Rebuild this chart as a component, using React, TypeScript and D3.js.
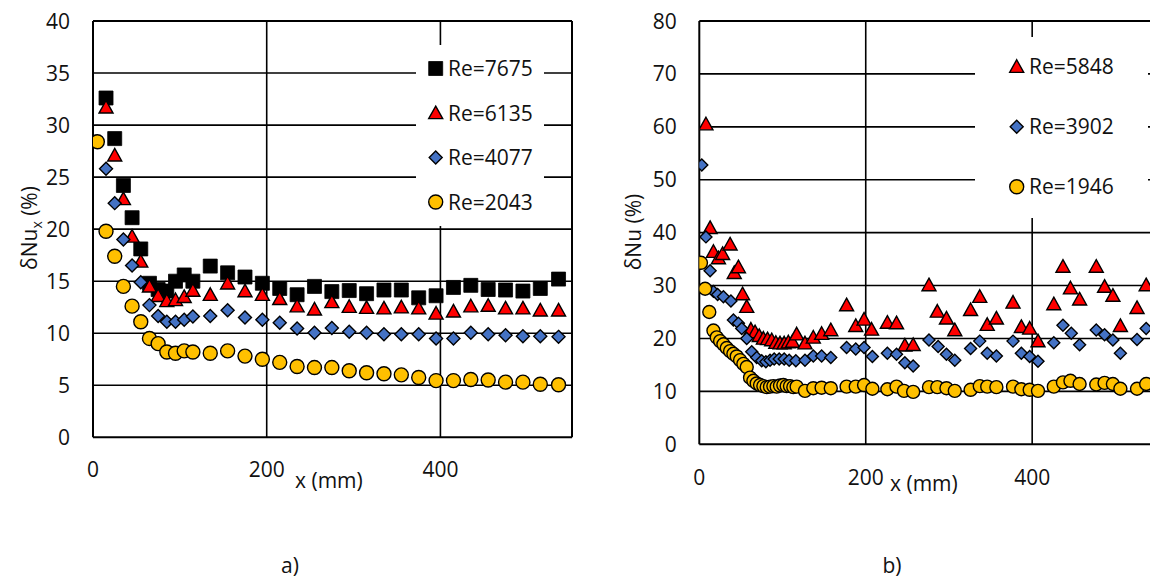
import React from 'react';
import * as d3 from 'd3';

// ---------- Chart a) ----------
const xA = [15, 25, 35, 45, 55, 65, 75, 85, 95, 105, 115, 135, 155, 175, 195, 215, 235, 255, 275, 295, 315, 335, 355, 375, 395, 415, 435, 455, 475, 495, 515, 536];
const re7675 = [32.6, 28.7, 24.2, 21.1, 18.1, 14.8, 14.2, 14.05, 15.0, 15.6, 15.0, 16.45, 15.8, 15.4, 14.8, 14.3, 13.7, 14.5, 14.0, 14.1, 13.8, 14.15, 14.15, 13.4, 13.6, 14.4, 14.6, 14.2, 14.15, 14.05, 14.3, 15.2];
const re6135 = [31.7, 27.1, 22.9, 19.3, 16.9, 14.5, 13.6, 13.1, 13.2, 13.5, 14.1, 13.7, 14.8, 14.05, 13.7, 13.3, 12.6, 12.3, 13.0, 12.55, 12.45, 12.4, 12.5, 12.4, 11.9, 12.1, 12.6, 12.65, 12.4, 12.4, 12.2, 12.2];
const re4077 = [25.8, 22.5, 19.0, 16.5, 14.9, 12.7, 11.65, 11.1, 11.1, 11.3, 11.6, 11.65, 12.2, 11.5, 11.3, 11.0, 10.45, 10.05, 10.5, 10.15, 10.05, 9.9, 9.9, 9.9, 9.5, 9.5, 10.05, 9.9, 9.8, 9.7, 9.7, 9.65];
const xA2043 = [5, 15, 25, 35, 45, 55, 65, 75, 85, 95, 105, 115, 135, 155, 175, 195, 215, 235, 255, 275, 295, 315, 335, 355, 375, 395, 415, 435, 455, 475, 495, 515, 536];
const re2043 = [28.4, 19.8, 17.4, 14.5, 12.6, 11.1, 9.5, 9.0, 8.2, 8.07, 8.3, 8.2, 8.07, 8.3, 7.8, 7.5, 7.2, 6.8, 6.7, 6.7, 6.4, 6.2, 6.1, 6.0, 5.75, 5.45, 5.45, 5.55, 5.5, 5.3, 5.3, 5.1, 5.05];

// ---------- Chart b) ----------
const xB5848 = [8, 13, 17, 23, 28, 37, 42, 47, 52, 57, 62, 67, 72, 77, 82, 87, 92, 97, 102, 107, 112, 117, 127, 137, 147, 158, 177, 188, 198, 207, 226, 237, 247, 257, 276, 286, 297, 307, 326, 337, 346, 357, 377, 387, 397, 407, 426, 437, 446, 457, 477, 487, 497, 506, 526, 537];
const re5848 = [60.5, 40.9, 36.4, 35.2, 36.0, 37.8, 32.4, 33.5, 28.4, 26.0, 21.7, 21.2, 20.5, 20.0, 19.9, 19.7, 19.2, 19.1, 19.1, 19.3, 19.4, 20.8, 19.1, 20.2, 20.9, 21.6, 26.3, 22.4, 23.6, 21.7, 23.0, 22.9, 18.7, 18.8, 30.1, 25.1, 23.8, 21.6, 25.4, 27.9, 22.6, 23.8, 26.8, 22.2, 21.9, 19.5, 26.5, 33.6, 29.5, 27.4, 33.6, 29.8, 28.1, 22.4, 25.8, 30.1];
const xB3902 = [3, 8, 13, 17, 22, 29, 38, 41, 47, 51, 57, 63, 69, 75, 80, 85, 90, 96, 102, 108, 116, 127, 137, 147, 158, 177, 188, 198, 208, 226, 237, 247, 257, 276, 287, 297, 307, 326, 337, 346, 357, 377, 387, 397, 407, 426, 437, 447, 457, 477, 487, 497, 506, 526, 537];
const re3902 = [52.8, 39.2, 32.8, 28.9, 28.3, 27.9, 27.1, 23.5, 22.9, 21.9, 20.0, 17.5, 16.4, 15.8, 15.6, 15.9, 16.1, 16.1, 16.1, 15.9, 15.8, 15.9, 16.7, 16.7, 16.4, 18.3, 18.0, 18.3, 16.6, 17.2, 17.0, 15.4, 14.8, 19.7, 18.5, 17.0, 15.9, 18.1, 19.5, 17.2, 16.7, 19.5, 17.2, 16.6, 15.7, 19.2, 22.5, 21.0, 18.8, 21.6, 20.7, 19.7, 17.2, 19.8, 21.9];
const xB1946 = [2, 7, 12, 17, 21, 25, 29, 33, 37, 41, 45, 49, 53, 57, 61, 65, 69, 73, 77, 81, 85, 89, 93, 97, 101, 105, 109, 113, 117, 127, 137, 147, 158, 177, 188, 198, 208, 226, 237, 246, 257, 276, 286, 297, 307, 326, 337, 346, 357, 377, 387, 397, 407, 426, 437, 446, 457, 477, 487, 497, 506, 526, 537];
const re1946 = [34.3, 29.4, 25.0, 21.5, 20.2, 19.5, 18.9, 18.2, 17.6, 17.1, 16.6, 15.9, 15.2, 14.6, 12.6, 12.0, 11.5, 11.2, 11.0, 10.8, 10.9, 11.0, 10.9, 11.1, 11.2, 11.0, 11.0, 10.8, 10.9, 10.1, 10.6, 10.7, 10.6, 10.9, 10.9, 11.2, 10.5, 10.4, 10.9, 10.1, 9.9, 10.8, 10.8, 10.6, 10.1, 10.3, 11.0, 10.9, 10.8, 10.9, 10.4, 10.3, 10.1, 10.9, 11.7, 12.0, 11.4, 11.3, 11.6, 11.4, 10.5, 10.5, 11.4];

const yTicksA = [0, 5, 10, 15, 20, 25, 30, 35, 40];
const yTicksB = [0, 10, 20, 30, 40, 50, 60, 70, 80];
const xTicks = [0, 200, 400];

const FONT = "'Open Sans', 'Liberation Sans', sans-serif";
const TXT = '#111';
const FS = 21;

type Shape = 'square' | 'triangle' | 'diamond' | 'circle';
const STYLE: Record<Shape, { fill: string; stroke: string }> = {
  square: { fill: '#000000', stroke: '#000000' },
  triangle: { fill: '#FF0000', stroke: '#000000' },
  diamond: { fill: '#4472C4', stroke: '#000000' },
  circle: { fill: '#FFC000', stroke: '#000000' },
};

function markerPath(shape: Shape, s: number): string {
  const h = s / 2;
  if (shape === 'square') return `M${-h},${-h}H${h}V${h}H${-h}Z`;
  if (shape === 'diamond') return `M0,${-h}L${h},0L0,${h}L${-h},0Z`;
  const th = s * 0.9;
  return `M0,${-th * 0.55}L${h},${th * 0.45}L${-h},${th * 0.45}Z`;
}

function Marker({ shape, x, y, s }: { shape: Shape; x: number; y: number; s: number }) {
  const st = STYLE[shape];
  if (shape === 'circle') {
    return <circle cx={x} cy={y} r={s / 2} fill={st.fill} stroke={st.stroke} strokeWidth={1.4} />;
  }
  return (
    <path
      d={markerPath(shape, s)}
      transform={`translate(${x},${y})`}
      fill={st.fill}
      stroke={st.stroke}
      strokeWidth={shape === 'square' ? 0.8 : 1.4}
      strokeLinejoin="miter"
    />
  );
}

interface Series {
  xs: number[];
  ys: number[];
  shape: Shape;
  size: number;
}

function Panel(props: {
  left: number;
  top: number;
  right: number;
  bottom: number;
  xMax: number;
  yMax: number;
  yTicks: number[];
  series: Series[];
  clipId: string;
  legendBox: { x0: number; x1: number; y0: number; y1: number };
  legend: { label: string; shape: Shape; size: number; y: number }[];
  legendMarkerX: number;
  legendTextX: number;
  yLabelRight: number;
  xTickBaseline: number;
  xTitleX: number;
  xTitleBaseline: number;
  yTitle: React.ReactNode;
  yTitleX: number;
  yTitleY: number;
  drawRight: boolean;
}) {
  const p = props;
  const x = d3.scaleLinear().domain([0, p.xMax]).range([p.left, p.right]);
  const y = d3.scaleLinear().domain([0, p.yMax]).range([p.bottom, p.top]);
  const lb = p.legendBox;
  return (
    <g fontFamily={FONT} fill={TXT}>
      <defs>
        <clipPath id={p.clipId}>
          <rect x={p.left} y={p.top - 10} width={p.right - p.left + 10} height={p.bottom - p.top + 20} />
        </clipPath>
      </defs>
      {p.yTicks.slice(1, -1).map((t) => (
        <line key={'h' + t} x1={p.left} x2={p.right} y1={y(t)} y2={y(t)} stroke="#000" strokeWidth={1.6} />
      ))}
      {xTicks.slice(1).map((t) => (
        <line key={'v' + t} x1={x(t)} x2={x(t)} y1={p.top} y2={p.bottom} stroke="#000" strokeWidth={1.6} />
      ))}
      <rect x={lb.x0} y={lb.y0} width={lb.x1 - lb.x0} height={lb.y1 - lb.y0} fill="#fff" />
      <line x1={p.left} x2={p.right} y1={p.top} y2={p.top} stroke="#000" strokeWidth={2} />
      <line x1={p.left} x2={p.right} y1={p.bottom} y2={p.bottom} stroke="#000" strokeWidth={2} />
      <line x1={p.left} x2={p.left} y1={p.top} y2={p.bottom} stroke="#000" strokeWidth={2} />
      {p.drawRight && <line x1={p.right} x2={p.right} y1={p.top} y2={p.bottom} stroke="#000" strokeWidth={2} />}
      <g clipPath={`url(#${p.clipId})`}>
        {p.series.map((s, si) => (
          <g key={si}>
            {s.xs.map((xv, i) => (
              <Marker key={i} shape={s.shape} x={x(xv)} y={y(s.ys[i])} s={s.size} />
            ))}
          </g>
        ))}
      </g>
      {p.legend.map((l) => (
        <g key={l.label}>
          <Marker shape={l.shape} x={p.legendMarkerX} y={l.y} s={l.size} />
          <text x={p.legendTextX} y={l.y} dy="0.36em" fontSize={FS}>
            {l.label}
          </text>
        </g>
      ))}
      {p.yTicks.map((t) => (
        <text key={'yl' + t} x={p.yLabelRight} y={y(t)} dy="0.36em" textAnchor="end" fontSize={FS}>
          {t}
        </text>
      ))}
      {xTicks.map((t) => (
        <text key={'xl' + t} x={x(t)} y={p.xTickBaseline} textAnchor="middle" fontSize={FS}>
          {t}
        </text>
      ))}
      <text x={p.xTitleX} y={p.xTitleBaseline} fontSize={FS}>
        x (mm)
      </text>
      <text transform={`translate(${p.yTitleX},${p.yTitleY}) rotate(-90)`} textAnchor="middle" fontSize={FS}>
        {p.yTitle}
      </text>
    </g>
  );
}

export default function App() {
  const seriesA: Series[] = [
    { xs: xA, ys: re7675, shape: 'square', size: 14 },
    { xs: xA, ys: re6135, shape: 'triangle', size: 14 },
    { xs: xA, ys: re4077, shape: 'diamond', size: 13 },
    { xs: xA2043, ys: re2043, shape: 'circle', size: 14 },
  ];
  const seriesB: Series[] = [
    { xs: xB5848, ys: re5848, shape: 'triangle', size: 14 },
    { xs: xB3902, ys: re3902, shape: 'diamond', size: 12 },
    { xs: xB1946, ys: re1946, shape: 'circle', size: 13 },
  ];
  return (
    <svg
      width={1150}
      height={578}
      style={{ position: 'absolute', left: 0, top: 0, background: '#fff' }}
      xmlns="http://www.w3.org/2000/svg"
    >
      <rect x={0} y={0} width={1150} height={578} fill="#fff" />
      <Panel
        left={93}
        top={21}
        right={572}
        bottom={437.3}
        xMax={551.5}
        yMax={40}
        yTicks={yTicksA}
        series={seriesA}
        clipId="clipA"
        legendBox={{ x0: 416, x1: 544, y0: 45, y1: 226 }}
        legend={[
          { label: 'Re=7675', shape: 'square', size: 14, y: 68.5 },
          { label: 'Re=6135', shape: 'triangle', size: 14, y: 113 },
          { label: 'Re=4077', shape: 'diamond', size: 13, y: 157.5 },
          { label: 'Re=2043', shape: 'circle', size: 14, y: 202 },
        ]}
        legendMarkerX={435.7}
        legendTextX={448}
        yLabelRight={70}
        xTickBaseline={477}
        xTitleX={295}
        xTitleBaseline={488}
        yTitle={
          <>
            δNu
            <tspan fontSize={14} dy={5}>
              x
            </tspan>
            <tspan dy={-5}> (%)</tspan>
          </>
        }
        yTitleX={37}
        yTitleY={228}
        drawRight={true}
      />
      <Panel
        left={699.3}
        top={21}
        right={1157}
        bottom={444.3}
        xMax={550}
        yMax={80}
        yTicks={yTicksB}
        series={seriesB}
        clipId="clipB"
        legendBox={{ x0: 975, x1: 1148, y0: 37, y1: 218 }}
        legend={[
          { label: 'Re=5848', shape: 'triangle', size: 14, y: 66.7 },
          { label: 'Re=3902', shape: 'diamond', size: 13, y: 126.7 },
          { label: 'Re=1946', shape: 'circle', size: 14, y: 186.7 },
        ]}
        legendMarkerX={1016.7}
        legendTextX={1029}
        yLabelRight={676.7}
        xTickBaseline={485}
        xTitleX={890}
        xTitleBaseline={491}
        yTitle={<>δNu (%)</>}
        yTitleX={641}
        yTitleY={232}
        drawRight={false}
      />
      <text x={290} y={573} textAnchor="middle" fontFamily={FONT} fontSize={FS} fill={TXT}>
        a)
      </text>
      <text x={892} y={573} textAnchor="middle" fontFamily={FONT} fontSize={FS} fill={TXT}>
        b)
      </text>
    </svg>
  );
}
